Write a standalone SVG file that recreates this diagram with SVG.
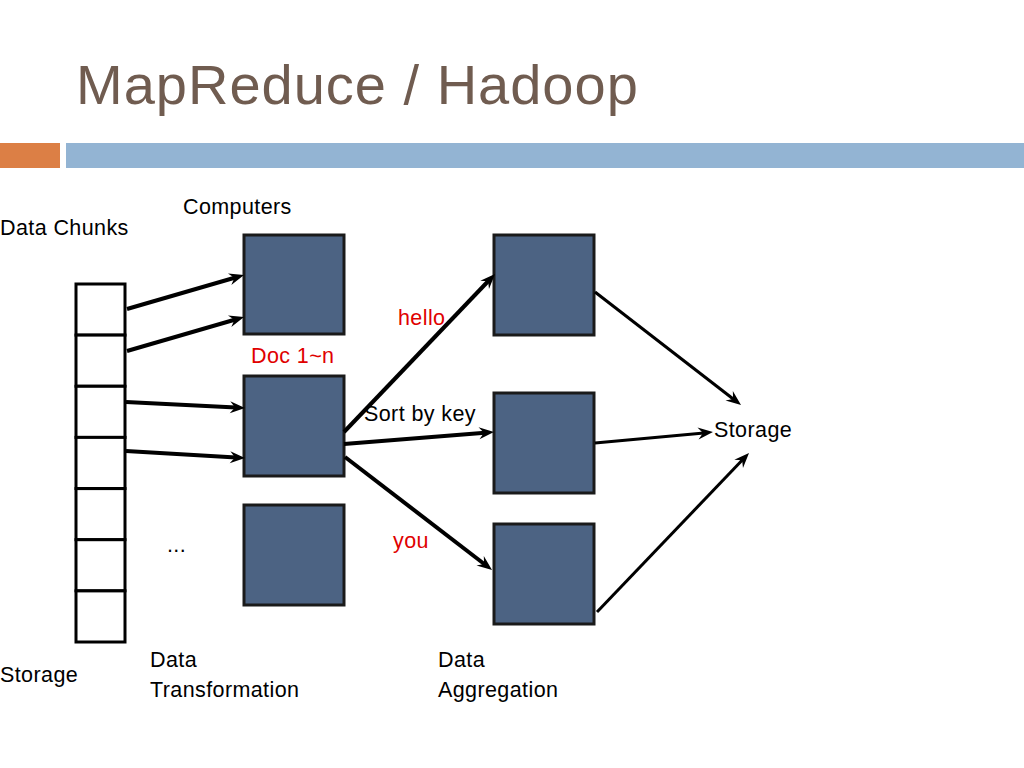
<svg xmlns="http://www.w3.org/2000/svg" width="1024" height="768" viewBox="0 0 1024 768">
<defs>
<style>
.t{font-family:"Liberation Sans","DejaVu Sans",sans-serif;font-size:21.5px;letter-spacing:0.4px;fill:#000}
.r{fill:#e00000}
.title{font-family:"Liberation Sans","DejaVu Sans",sans-serif;font-size:56px;fill:#705c50;letter-spacing:1px}
.box{fill:#4c6383;stroke:#1a1a1a;stroke-width:3}
.cell{fill:#fff;stroke:#000;stroke-width:3}
.a4{stroke:#000;stroke-width:4;fill:none;marker-end:url(#ah)}
.a3{stroke:#000;stroke-width:3;fill:none;marker-end:url(#ah)}
</style>
<marker id="ah" markerUnits="userSpaceOnUse" markerWidth="18" markerHeight="14" viewBox="-16 -7 18 14" refX="-9" refY="0" orient="auto">
<path d="M0,0 L-15,-6 L-10,0 L-15,6 Z" fill="#000"/>
</marker>
</defs>
<rect width="1024" height="768" fill="#fff"/>
<text class="title" x="76" y="104">MapReduce / Hadoop</text>
<rect x="0" y="143" width="60" height="25" fill="#dc7f45"/>
<rect x="66" y="143" width="958" height="25" fill="#93b4d3"/>

<g id="storage-stack">
<rect class="cell" x="76" y="284" width="49" height="51.1"/>
<rect class="cell" x="76" y="335.1" width="49" height="51.1"/>
<rect class="cell" x="76" y="386.3" width="49" height="51.1"/>
<rect class="cell" x="76" y="437.4" width="49" height="51.1"/>
<rect class="cell" x="76" y="488.6" width="49" height="51.1"/>
<rect class="cell" x="76" y="539.7" width="49" height="51.1"/>
<rect class="cell" x="76" y="590.9" width="49" height="51.1"/>
</g>

<g id="map1"><rect class="box" x="244" y="235" width="100" height="99"/></g>
<g id="map2"><rect class="box" x="244" y="376" width="100" height="100"/></g>
<g id="map3"><rect class="box" x="244" y="505" width="100" height="100"/></g>
<g id="reduce1"><rect class="box" x="494" y="235" width="100" height="100"/></g>
<g id="reduce2"><rect class="box" x="494" y="393" width="100" height="100"/></g>
<g id="reduce3"><rect class="box" x="494" y="524" width="100" height="100"/></g>

<g id="connectors">
<line class="a4" x1="127" y1="309" x2="235.4" y2="277.5"/>
<line class="a4" x1="127" y1="351" x2="235.4" y2="319.5"/>
<line class="a4" x1="126" y1="402" x2="236" y2="407.5"/>
<line class="a4" x1="126" y1="451" x2="236" y2="457.5"/>
<line class="a4" x1="344" y1="432" x2="488.8" y2="280.5"/>
<line class="a4" x1="344" y1="444" x2="485" y2="432.7"/>
<line class="a4" x1="345" y1="457" x2="484.9" y2="564.5"/>
<line class="a3" x1="595" y1="292" x2="733.9" y2="399.5"/>
<line class="a3" x1="595" y1="443" x2="704" y2="432.9"/>
<line class="a3" x1="597" y1="612" x2="742.8" y2="459.5"/>
</g>

<g id="labels">
<text class="t" x="183" y="214">Computers</text>
<text class="t" x="0" y="235">Data Chunks</text>
<text class="t r" x="251" y="363">Doc 1~n</text>
<text class="t r" x="398" y="325">hello</text>
<text class="t" x="364" y="421">Sort by key</text>
<text class="t r" x="393" y="548">you</text>
<text class="t" x="714" y="437">Storage</text>
<text class="t" x="167" y="552">...</text>
<text class="t" x="0" y="682">Storage</text>
<text class="t" x="150" y="667">Data</text>
<text class="t" x="150" y="697">Transformation</text>
<text class="t" x="438" y="667">Data</text>
<text class="t" x="438" y="697">Aggregation</text>
</g>
</svg>
